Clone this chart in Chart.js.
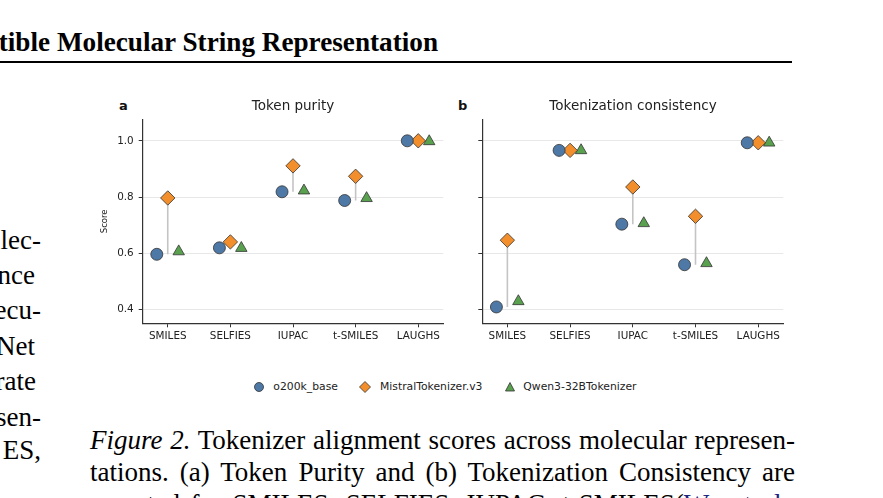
<!DOCTYPE html>
<html>
<head>
<meta charset="utf-8">
<script src="https://cdn.jsdelivr.net/npm/chart.js@4"></script>
<style>
  html, body { margin: 0; padding: 0; background: #fff; }
  body { position: relative; width: 883px; height: 498px; overflow: hidden; }
  .serif { font-family: "Liberation Serif", "Times New Roman", serif; color: #000; position: absolute; white-space: nowrap; line-height: 1; }
  .sans { font-family: "DejaVu Sans", sans-serif; color: #222; position: absolute; white-space: nowrap; line-height: 1; }
  canvas { position: absolute; }
  .body { font-size: 27px; }
  .cap { left: 90px; width: 705px; font-size: 27px; text-align: justify; text-align-last: justify; }
  .cite { color: #1a237e; }
</style>
</head>
<body>
<div class="serif" style="right:445px; top:29.2px; font-size:27.2px; font-weight:bold;">Compatible Molecular String Representation</div>
<div style="position:absolute; left:0; top:61px; width:792px; height:2px; background:#000;"></div>

<div class="serif body" style="right:842px; top:227.4px;">lec-</div>
<div class="serif body" style="right:848px; top:262.4px;">nce</div>
<div class="serif body" style="right:842px; top:297.4px;">ecu-</div>
<div class="serif body" style="right:848px; top:333.1px;">Net</div>
<div class="serif body" style="right:847px; top:368.1px;">rate</div>
<div class="serif body" style="right:842px; top:404.1px;">sen-</div>
<div class="serif body" style="right:842px; top:437.4px;">ES,</div>

<div class="sans" style="left:119px; top:99px; font-size:13px; font-weight:bold; color:#111;">a</div>
<div class="sans" style="left:458px; top:99px; font-size:13px; font-weight:bold; color:#111;">b</div>

<canvas id="chartA" width="406" height="252" style="left:90px; top:92px;"></canvas>
<canvas id="chartB" width="386" height="252" style="left:440px; top:92px;"></canvas>

<div id="legend"></div>

<div class="serif cap" style="top:427.4px;"><i>Figure 2.</i> Tokenizer alignment scores across molecular represen-</div>
<div class="serif cap" style="top:459.1px;">tations. (a) Token Purity and (b) Tokenization Consistency are</div>
<div class="serif cap" style="top:490.8px;">reported for SMILES, SELFIES, IUPAC, t-SMILES(<span class="cite">Wu et al.,</span></div>

<script>
const categories = ['SMILES', 'SELFIES', 'IUPAC', 't-SMILES', 'LAUGHS'];
const yTicks = [0.4, 0.6, 0.8, 1.0];
const tokenizers = ['o200k_base', 'MistralTokenizer.v3', 'Qwen3-32BTokenizer'];

// (a) token purity
const purityO200k   = [0.597, 0.620, 0.819, 0.788, 1.000];
const purityMistral = [0.797, 0.641, 0.911, 0.874, 1.000];
const purityQwen    = [0.607, 0.619, 0.823, 0.796, 0.998];

// (b) tokenization consistency
const consistO200k   = [0.410, 0.966, 0.704, 0.560, 0.993];
const consistMistral = [0.647, 0.966, 0.836, 0.732, 0.993];
const consistQwen    = [0.430, 0.966, 0.707, 0.565, 0.993];

const colors = ['#4e79a7', '#f28e2b', '#59a14f'];
const shapes = ['circle', 'rectRot', 'triangle'];
const radii  = [6, 7.2, 6.6];
const offsets = [-0.175, 0, 0.175];
const font = 'DejaVu Sans';

function buildDatasets(series) {
    const sets = series.map((vals, s) => ({
        label: tokenizers[s],
        data: vals.map((v, i) => ({ x: i + offsets[s], y: v })),
        pointStyle: shapes[s],
        pointRadius: radii[s],
        backgroundColor: colors[s],
        borderColor: '#333',
        borderWidth: 0.8,
        order: 1
    }));
    // grey range line at each category centre, min -> max of the three tokenizers
    const range = [];
    categories.forEach((c, i) => {
        const v = series.map(s => s[i]);
        range.push({ x: i, y: Math.min(...v) }, { x: i, y: Math.max(...v) }, { x: i, y: null });
    });
    sets.push({
        label: 'range',
        data: range,
        showLine: true,
        spanGaps: false,
        pointRadius: 0,
        borderColor: '#c4c4c4',
        borderWidth: 1.6,
        order: 5
    });
    return sets;
}

function makeChart(id, title, series, axisW, rightW, showLabels) {
    return new Chart(document.getElementById(id), {
        type: 'scatter',
        data: { datasets: buildDatasets(series) },
        options: {
            responsive: false,
            animation: false,
            devicePixelRatio: 1,
            layout: { padding: 0 },
            plugins: {
                legend: { display: false },
                tooltip: { enabled: false },
                title: {
                    display: true,
                    text: title,
                    color: '#222',
                    font: { family: font, size: 13.5, weight: 'normal' },
                    padding: { top: 6.2, bottom: 5 }
                }
            },
            scales: {
                x: {
                    type: 'linear',
                    min: -0.4, max: 4.4,
                    afterBuildTicks: s => { s.ticks = categories.map((c, i) => ({ value: i })); },
                    afterFit: s => { s.height = 20.7; },
                    grid: { drawOnChartArea: false, drawTicks: true, tickLength: 4, tickColor: '#333', tickWidth: 1 },
                    border: { display: true, color: '#333', width: 1.2 },
                    ticks: {
                        autoSkip: false, maxRotation: 0, padding: 3,
                        color: '#222', font: { family: font, size: 10.4 },
                        callback: v => categories[v] ?? ''
                    }
                },
                y: {
                    type: 'linear',
                    min: 0.352, max: 1.076,
                    afterBuildTicks: s => { s.ticks = yTicks.map(v => ({ value: v })); },
                    afterFit: s => { s.width = axisW; },
                    grid: { color: '#e8e8e8', lineWidth: 1, tickLength: 4, tickColor: '#333', tickWidth: 1 },
                    border: { display: true, color: '#333', width: 1.2 },
                    ticks: {
                        padding: 5, color: '#222', font: { family: font, size: 10.4 },
                        callback: v => showLabels ? v.toFixed(1) : ''
                    },
                    title: {
                        display: showLabels,
                        text: 'Score',
                        color: '#222',
                        font: { family: font, size: 8.5 },
                        padding: { top: 10 }
                    }
                },
                // empty right-hand spacer so the title stays centred on the plot area
                spacer: {
                    type: 'linear',
                    position: 'right',
                    min: 0, max: 1,
                    grid: { display: false, drawTicks: false },
                    border: { display: false },
                    ticks: { display: false },
                    afterFit: s => { s.width = rightW; }
                }
            }
        }
    });
}

makeChart('chartA', 'Token purity', [purityO200k, purityMistral, purityQwen], 52.7, 52.7, true);
makeChart('chartB', 'Tokenization consistency', [consistO200k, consistMistral, consistQwen], 42.3, 42.7, false);

// legend below both panels
const legendPos = [[259.3, 273.3], [365, 380], [510, 523.3]];
const legendY = 387.3;
const legendEl = document.getElementById('legend');
tokenizers.forEach((name, s) => {
    const [mx, tx] = legendPos[s];
    const svg = document.createElementNS('http://www.w3.org/2000/svg', 'svg');
    svg.setAttribute('width', 14);
    svg.setAttribute('height', 14);
    svg.style.position = 'absolute';
    svg.style.left = (mx - 7) + 'px';
    svg.style.top = (legendY - 7) + 'px';
    let shape;
    if (s === 0) {
        shape = document.createElementNS(svg.namespaceURI, 'circle');
        shape.setAttribute('cx', 7); shape.setAttribute('cy', 7); shape.setAttribute('r', 4.5);
    } else if (s === 1) {
        shape = document.createElementNS(svg.namespaceURI, 'polygon');
        shape.setAttribute('points', '7,1.5 12.5,7 7,12.5 1.5,7');
    } else {
        shape = document.createElementNS(svg.namespaceURI, 'polygon');
        shape.setAttribute('points', '7,2.5 11.5,11 2.5,11');
    }
    shape.setAttribute('fill', colors[s]);
    shape.setAttribute('stroke', '#333');
    shape.setAttribute('stroke-width', 0.8);
    svg.appendChild(shape);
    legendEl.appendChild(svg);

    const label = document.createElement('div');
    label.className = 'sans';
    label.textContent = name;
    label.style.fontSize = '10.8px';
    label.style.left = tx + 'px';
    label.style.top = (legendY - 5.5) + 'px';
    legendEl.appendChild(label);
});
</script>
</body>
</html>
